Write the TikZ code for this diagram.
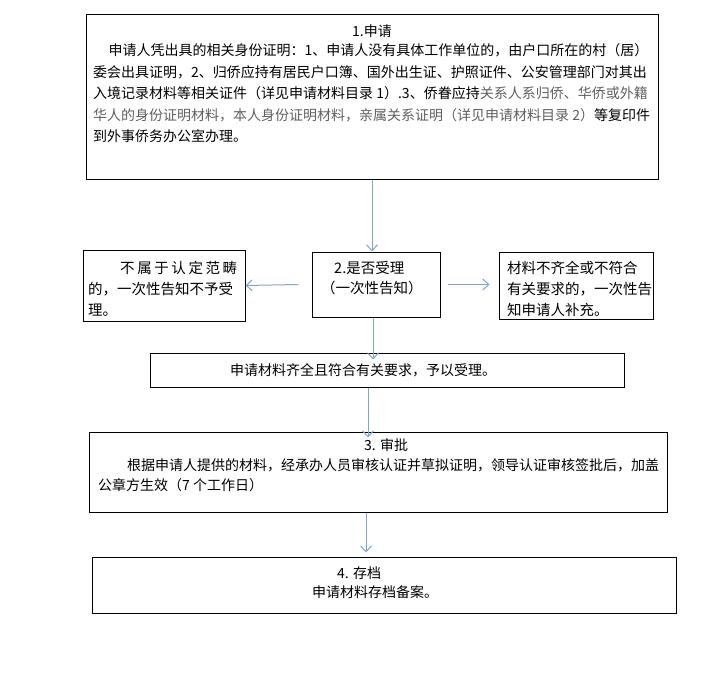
\documentclass[tikz,border=0pt]{standalone}
\usepackage{fontspec}
\setmainfont{Noto Sans CJK SC}
\usetikzlibrary{arrows.meta,positioning}
\definecolor{arrowblue}{RGB}{122,166,214}
\definecolor{softgray}{RGB}{95,95,95}

\begin{document}
\begin{tikzpicture}[x=1pt, y=-1pt,
    box/.style={draw, line width=1pt},
    txt/.style={inner sep=0pt, align=left, font=\fontsize{14}{21.5}\selectfont},
    smalltxt/.style={inner sep=0pt, align=left, font=\fontsize{14.5}{21}\selectfont},
    flow/.style={draw=arrowblue, line width=1pt, -{Straight Barb[length=6pt,width=11pt]}}]
    \useasboundingbox (0,0) rectangle (710,674);

    \node (apply) [box, minimum width=572pt, minimum height=165pt] at (372,97.5) {};
    \node (reject) [box, minimum width=162pt, minimum height=71pt] at (164,285.5) {};
    \node (check) [box, minimum width=128pt, minimum height=65pt] at (376,284.5) {};
    \node (supply) [box, minimum width=154pt, minimum height=67pt] at (576,285.5) {};
    \node (accept) [box, minimum width=474pt, minimum height=34pt] at (387,370) {};
    \node (review) [box, minimum width=578pt, minimum height=80pt] at (378,472) {};
    \node (archive) [box, minimum width=584pt, minimum height=56pt] at (384,585) {};

    % multi-line texts sit on the baseline of their last line
    \node (applyhead) [txt, anchor=base] at (372,36.5) {1.申请};
    \node (applybody) [txt, anchor=base west] at (93,142) {\hspace*{1.1em}申请人凭出具的相关身份证明：1、申请人没有具体工作单位的，由户口所在的村（居）\\
        委会出具证明，2、归侨应持有居民户口簿、国外出生证、护照证件、公安管理部门对其出\\
        入境记录材料等相关证件（详见申请材料目录 1）.3、侨眷应持\textcolor{softgray}{关系人系归侨、华侨或外籍}\\
        \textcolor{softgray}{华人的身份证明材料，本人身份证明材料，亲属关系证明（详见申请材料目录 2）}等复印件\\
        到外事侨务办公室办理。};

    \node (rejecttxt) [smalltxt, anchor=base west] at (88,315.5) {\hspace*{32pt}\makebox[117pt][s]{不\hfill 属\hfill 于\hfill 认\hfill 定\hfill 范\hfill 畴}\\
        的，一次性告知不予受\\理。};
    \node (checkhead) [smalltxt, anchor=base west] at (334,273.5) {2.是否受理};
    \node (checknote) [smalltxt, anchor=base west] at (321,293.5) {（一次性告知）};
    \node (supplytxt) [smalltxt, anchor=base west] at (507,315.5) {材料不齐全或不符合\\有关要求的，一次性告\\知申请人补充。};

    \node (accepttxt) [txt, anchor=base west] at (230,375.5) {申请材料齐全且符合有关要求，予以受理。};

    \node (reviewhead) [txt, anchor=base west] at (364,450.5) {3. 审批};
    \node (reviewbody) [txt, anchor=base west, font=\fontsize{14}{20}\selectfont] at (98,490.5) {\hspace*{29pt}根据申请人提供的材料，经承办人员审核认证并草拟证明，领导认证审核签批后，加盖\\
        公章方生效（7 个工作日）};

    \node (archivehead) [txt, anchor=base west] at (337,578.5) {4. 存档};
    \node (archivetxt) [txt, anchor=base west] at (312,597.5) {申请材料存档备案。};

    \draw[flow] (apply.south) -- (apply.south |- check.north);
    \draw[flow] ([xshift=-13pt]check.west) -- (reject.east);
    \draw[flow] ([xshift=7pt]check.east) -- ([xshift=-9pt]supply.west |- check.east);
    \draw[flow] ([xshift=-3pt]check.south) -- ([xshift=-3pt,yshift=-7pt]check.south |- accept.north);
    \draw[flow] ([xshift=-19pt]accept.south) -- ([xshift=-19pt,yshift=-6pt]accept.south |- review.north);
    \draw[flow] ([xshift=-12pt]review.south) -- ([xshift=-12pt,yshift=4pt]review.south |- archive.north);
\end{tikzpicture}
\end{document}
